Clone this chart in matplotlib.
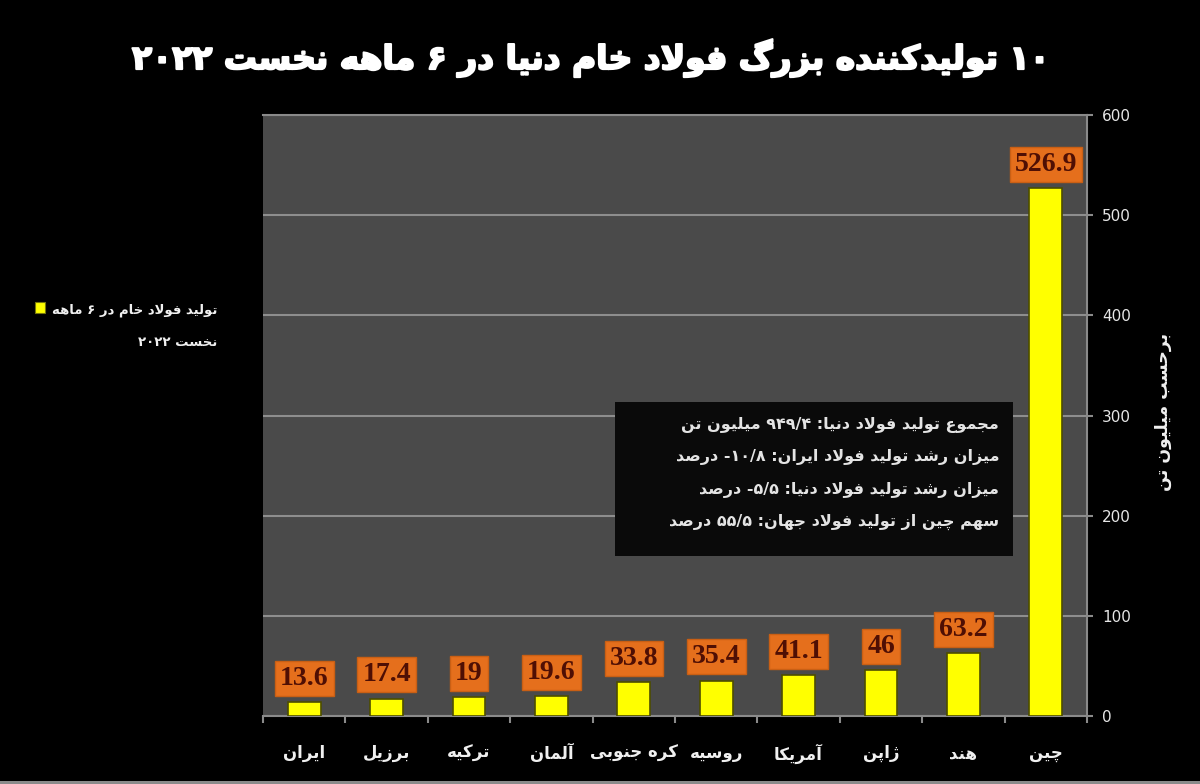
import re
import matplotlib
matplotlib.use('Agg')
import matplotlib.pyplot as plt
import matplotlib.patheffects as pe
from matplotlib.patches import Rectangle

# chart data, left to right
countries = ['ایران', 'برزیل', 'ترکیه', 'آلمان', 'کره جنوبی', 'روسیه', 'آمریکا', 'ژاپن', 'هند', 'چین']
production = [13.6, 17.4, 19, 19.6, 33.8, 35.4, 41.1, 46, 63.2, 526.9]
y_ticks = [0, 100, 200, 300, 400, 500, 600]

title = '۱۰ تولیدکننده بزرگ فولاد خام دنیا در ۶ ماهه نخست ۲۰۲۲'
y_label = 'برحسب میلیون تن'
legend_lines = ['تولید فولاد خام در ۶ ماهه', 'نخست ۲۰۲۲']
note_lines = [
    'مجموع تولید فولاد دنیا: ۹۴۹/۴ میلیون تن',
    'میزان رشد تولید فولاد ایران: ۱۰/۸- درصد',
    'میزان رشد تولید فولاد دنیا: ۵/۵- درصد',
    'سهم چین از تولید فولاد جهان: ۵۵/۵ درصد',
]

# matplotlib does no arabic shaping, so pick presentation forms by hand
# first code point of each letter: isolated, final, initial, medial
FORMS = {'ب': 0xFE8F, 'پ': 0xFB56, 'ت': 0xFE95, 'ج': 0xFE9D, 'چ': 0xFB7A, 'ح': 0xFEA1, 'خ': 0xFEA5,
         'س': 0xFEB1, 'ش': 0xFEB5, 'ص': 0xFEB9, 'ع': 0xFEC9, 'ف': 0xFED1, 'ک': 0xFB8E, 'گ': 0xFB92,
         'ل': 0xFEDD, 'م': 0xFEE1, 'ن': 0xFEE5, 'ه': 0xFEE9, 'ی': 0xFBFC}
# these only join to the previous letter
RIGHT_ONLY = {'ا': 0xFE8D, 'آ': 0xFE81, 'د': 0xFEA9, 'ر': 0xFEAD, 'ز': 0xFEAF, 'ژ': 0xFB8A, 'و': 0xFEED}


def fa(text):
    text = text.replace('لا', '\uE000')
    out = []
    for i, ch in enumerate(text):
        prev = text[i - 1] if i else ''
        nxt = text[i + 1] if i + 1 < len(text) else ''
        joins_prev = prev in FORMS
        joins_next = nxt in FORMS or nxt in RIGHT_ONLY or nxt == '\uE000'
        if ch == '\uE000':
            out.append(chr(0xFEFC if joins_prev else 0xFEFB))
        elif ch in RIGHT_ONLY:
            out.append(chr(RIGHT_ONLY[ch] + (1 if joins_prev else 0)))
        elif ch in FORMS:
            offset = {(False, False): 0, (True, False): 1, (False, True): 2, (True, True): 3}[(joins_prev, joins_next)]
            out.append(chr(FORMS[ch] + offset))
        else:
            out.append(ch)
    # visual order, digit runs stay left to right
    tokens = re.findall(r'[۰-۹/]+|.', ''.join(out))
    return ''.join(reversed(tokens))


fig = plt.figure(figsize=(12, 7.84), dpi=100, facecolor='black')
ax = fig.add_axes([263 / 1200, 1 - 716 / 784, 824 / 1200, 601 / 784], facecolor='#4a4a4a')

xs = list(range(len(countries)))
ax.bar(xs, production, width=0.4, color='#ffff00', edgecolor='#4d4d00', linewidth=1.2, zorder=3)
ax.set_xlim(-0.5, len(countries) - 0.5)
ax.set_ylim(0, 600)

# value labels
for x, v in zip(xs, production):
    ax.annotate(str(v), (x, v), xytext=(0, 8), textcoords='offset points', ha='center', va='bottom',
                family='Liberation Serif', weight='bold', fontsize=20, color='#4f0f04', zorder=5,
                bbox=dict(boxstyle='square,pad=0.18', fc='#e56f1c', ec='#c95f14', lw=1))

ax.grid(axis='y', color='#8e8e8e', lw=1.5, zorder=1)
ax.set_axisbelow(True)
for side in ax.spines:
    ax.spines[side].set_color('#8a8a8a')
    ax.spines[side].set_linewidth(1.5)
ax.spines['left'].set_visible(False)

ax.yaxis.tick_right()
ax.set_yticks(y_ticks)
ax.tick_params(axis='y', colors='#e6e6e6', labelsize=11, length=4, width=1.5, pad=7, color='#8a8a8a')

# ticks sit between categories, names under the bars
ax.set_xticks([x - 0.5 for x in xs] + [xs[-1] + 0.5])
ax.set_xticklabels([])
ax.tick_params(axis='x', length=5, width=1.5, color='#8a8a8a')
for x, name in zip(xs, countries):
    ax.annotate(fa(name), (x, 0), xytext=(0, -27), textcoords='offset points', ha='center', va='center',
                family='DejaVu Sans', weight='bold', fontsize=12, color='#f0f0f0')

title_txt = fig.text(591 / 1200, 1 - 58 / 784, fa(title), ha='center', va='center', family='DejaVu Sans',
                     weight='bold', fontsize=23.7, color='white')
title_txt.set_path_effects([pe.withStroke(linewidth=1.5, foreground='white')])
fig.text(1163 / 1200, 1 - 412 / 784, fa(y_label), rotation=90, ha='center', va='center',
         family='DejaVu Sans', weight='bold', fontsize=12.5, color='#f0f0f0')

# legend on the left
fig.patches.append(Rectangle((35 / 1200, 1 - 313 / 784), 10 / 1200, 11 / 784, transform=fig.transFigure,
                             fc='#ffff00', ec='#77770a', lw=0.8))
for y, line in zip([310, 342], legend_lines):
    fig.text(217 / 1200, 1 - y / 784, fa(line), ha='right', va='center', family='DejaVu Sans',
             weight='bold', fontsize=9.5, color='#f0f0f0')

# black note box over the grid
ax.add_patch(Rectangle((615 / 1200, 1 - 556 / 784), 398 / 1200, 154 / 784, transform=fig.transFigure,
                       fc='#0a0a0a', ec='none', zorder=4))
for y, line in zip([425, 457, 490, 522], note_lines):
    fig.text(999 / 1200, 1 - y / 784, fa(line), ha='right', va='center', family='DejaVu Sans',
             weight='bold', fontsize=11.5, color='#e4e4e4', zorder=6)

# thin light strip along the bottom edge of the image
fig.patches.append(Rectangle((0, 0), 1, 3 / 784, transform=fig.transFigure, fc='#8a8a8a', ec='none'))

fig.savefig('out.png', dpi=100, facecolor='black')
